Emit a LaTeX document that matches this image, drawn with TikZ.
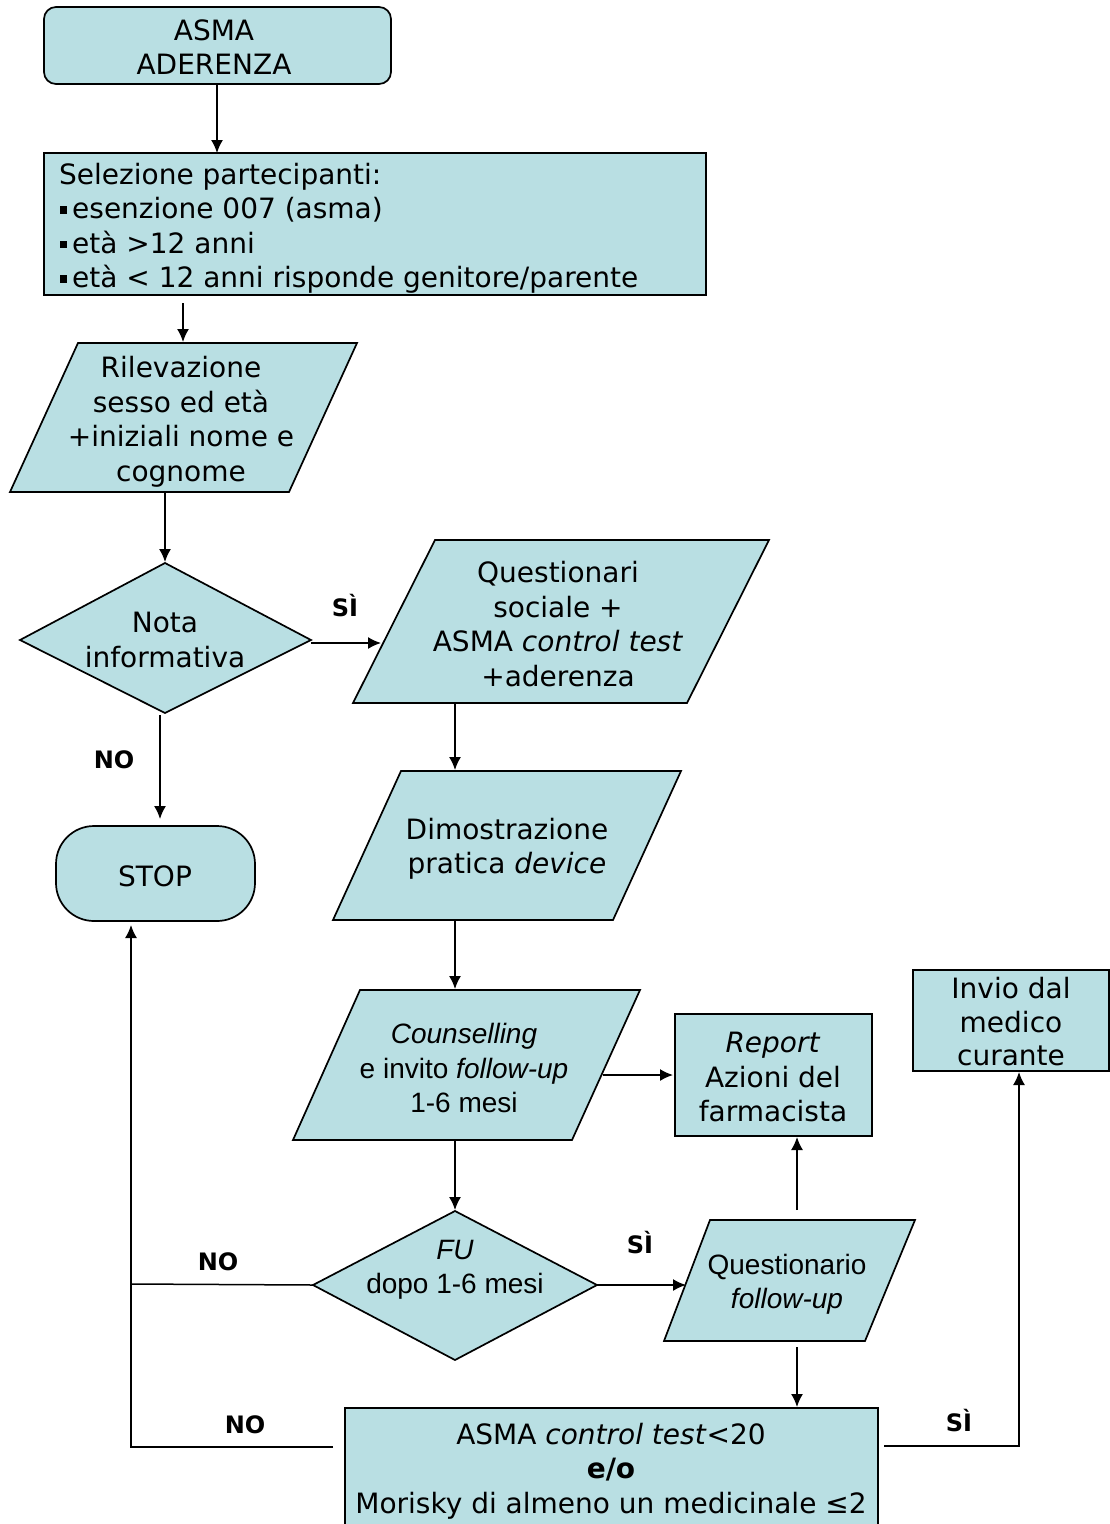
\documentclass[tikz,border=0pt]{standalone}
\usepackage{fontspec}
\setmainfont{DejaVu Sans}
\newfontfamily\arialf{Liberation Sans}
\usetikzlibrary{arrows.meta}
\definecolor{boxfill}{RGB}{185,223,227}
\newcommand\sqbul{\kern1pt\rule[5pt]{7pt}{7.5pt}\kern5pt}
\tikzset{
  shapebox/.style={draw=black, fill=boxfill, line width=1.7pt, line join=miter},
  conn/.style={line width=1.5pt, -{Latex[length=13pt,width=12pt]}},
  plainline/.style={line width=1.5pt},
  txt/.style={align=center, font=\fontsize{28}{34.5}\selectfont, inner sep=0pt},
  atxt/.style={align=center, font=\fontsize{28}{34.5}\selectfont\arialf, inner sep=0pt},
  lbl/.style={font=\fontsize{24}{28}\selectfont\bfseries, inner sep=0pt},
}
\begin{document}
\begin{tikzpicture}[x=1pt,y=-1pt]
\useasboundingbox (0,0) rectangle (1110,1524);
\fill[white] (0,0) rectangle (1110,1524);

% ---------- shapes ----------
\draw[shapebox, rounded corners=12pt] (44,7) rectangle (391,84);
\node[txt] (start) at (214,47) {ASMA\\ADERENZA};

\draw[shapebox] (44,153) rectangle (706,295);
\node[txt, align=left, anchor=north west] (sel) at (59,163)
  {Selezione partecipanti:\\\sqbul esenzione 007 (asma)\\\sqbul età >12 anni\\\sqbul età < 12 anni risponde genitore/parente};

\draw[shapebox] (78,343) -- (357,343) -- (289,492) -- (10,492) -- cycle;
\node[txt] (ril) at (181,422) {Rilevazione\\ sesso ed età\\+iniziali nome e\\cognome};

\draw[shapebox] (165,563) -- (311,640) -- (165,713) -- (20,640) -- cycle;
\node[txt] (nota) at (165,640) {Nota\\informativa};

\draw[shapebox] (435,540) -- (769,540) -- (687,703) -- (353,703) -- cycle;
\node[txt] (quest) at (558,624) {Questionari\\sociale +\\ ASMA \textit{control test}\\+aderenza};

\draw[shapebox, rounded corners=38pt] (56,826) rectangle (255,921);
\node[txt] (stop) at (155,876) {STOP};

\draw[shapebox] (401,771) -- (681,771) -- (613,920) -- (333,920) -- cycle;
\node[txt] (dim) at (507,849) {Dimostrazione\\pratica \textit{device}};

\draw[shapebox] (360,990) -- (640,990) -- (572,1140) -- (293,1140) -- cycle;
\node[atxt] (couns) at (464,1068) {\textit{Counselling}\\e invito \textit{follow-up}\\1-6 mesi};

\draw[shapebox] (675,1014) rectangle (872,1136);
\node[txt] (report) at (773,1077) {\textit{Report}\\Azioni del\\farmacista};

\draw[shapebox] (913,970) rectangle (1109,1071);
\node[txt, font=\fontsize{28}{33.5}\selectfont] (invio) at (1011,1022) {Invio dal\\medico\\curante};

\draw[shapebox] (455,1211) -- (597,1285) -- (455,1360) -- (313,1285) -- cycle;
\node[atxt] (fu) at (455,1270) {\textit{FU}\\dopo 1-6 mesi};

\draw[shapebox] (710,1220) -- (915,1220) -- (865,1341) -- (664,1341) -- cycle;
\node[atxt] (qfu) at (787,1284) {Questionario\\ \textit{follow-up}};

\draw[shapebox] (345,1408) rectangle (878,1570);
\node[txt] (ctest) at (611,1471) {ASMA \textit{control test}<20\\\textbf{e/o}\\Morisky di almeno un medicinale ≤2};

% ---------- connector end points ----------
\coordinate (startS) at (217,84);
\coordinate (selN) at (217,153);
\coordinate (selS) at (183,303);
\coordinate (rilN) at (183,342);
\coordinate (rilS) at (165,493);
\coordinate (notaN) at (165,562);
\coordinate (notaE) at (311,643);
\coordinate (questW) at (381,643);
\coordinate (notaS) at (160,715);
\coordinate (stopN) at (160,819);
\coordinate (questS) at (455,703);
\coordinate (dimN) at (455,770);
\coordinate (dimS) at (455,920);
\coordinate (counsN) at (455,989);
\coordinate (counsE) at (603,1075);
\coordinate (reportW) at (673,1075);
\coordinate (counsS) at (455,1140);
\coordinate (fuN) at (455,1210);
\coordinate (fuE) at (597,1285);
\coordinate (qfuW) at (686,1285);
\coordinate (qfuN) at (797,1210);
\coordinate (reportS) at (797,1137);
\coordinate (qfuS) at (797,1347);
\coordinate (ctestN) at (797,1407);
\coordinate (fuW) at (313,1285);
\coordinate (noJoin) at (131,1284);
\coordinate (ctestW) at (333,1447);
\coordinate (noCorner) at (131,1447);
\coordinate (stopS) at (131,925);
\coordinate (ctestE) at (884,1446);
\coordinate (siCorner) at (1019,1446);
\coordinate (invioS) at (1019,1072);

% ---------- connectors ----------
\draw[conn] (startS) -- (selN);
\draw[conn] (selS) -- (rilN);
\draw[conn] (rilS) -- (notaN);
\draw[conn] (notaE) -- (questW);
\draw[conn] (notaS) -- (stopN);
\draw[conn] (questS) -- (dimN);
\draw[conn] (dimS) -- (counsN);
\draw[conn] (counsE) -- (reportW);
\draw[conn] (counsS) -- (fuN);
\draw[conn] (fuE) -- (qfuW);
\draw[conn] (qfuN) -- (reportS);
\draw[conn] (qfuS) -- (ctestN);
\draw[plainline] (fuW) -- (noJoin);
\draw[conn] (ctestW) -- (noCorner) -- (stopS);
\draw[conn] (ctestE) -- (siCorner) -- (invioS);

% ---------- labels ----------
\node[lbl] (si1) at (345,606) {SÌ};
\node[lbl] (no1) at (114,760) {NO};
\node[lbl] (si2) at (640,1243) {SÌ};
\node[lbl] (no2) at (218,1262) {NO};
\node[lbl] (no3) at (245,1425) {NO};
\node[lbl] (si3) at (959,1421) {SÌ};
\end{tikzpicture}
\end{document}
